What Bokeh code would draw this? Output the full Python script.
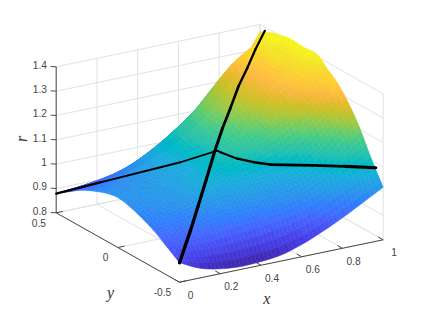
import numpy as np
from bokeh.plotting import figure
from bokeh.models import Range1d
from bokeh.core.properties import value
from bokeh.embed import file_html
from bokeh.resources import INLINE

# ---- surface heights r, rows run from y=-0.5 to y=0.5, columns from x=0 to x=1
y_rows = [-0.5, -0.4, -0.3, -0.2, -0.1, 0.0, 0.1, 0.2, 0.3, 0.4, 0.5]
x_cols = [0.0, 0.1, 0.2, 0.3, 0.4, 0.5, 0.6, 0.7, 0.8, 0.9, 1.0]
x_edge = [1.0, 1.0, 1.0, 1.0, 1.01, 1.03, 1.04, 1.035, 1.03, 1.01, 1.0]
r_table = [
    [0.880, 0.840, 0.820, 0.812, 0.815, 0.825, 0.850, 0.885, 0.925, 0.970, 1.016],
    [0.915, 0.922, 0.930, 0.938, 0.945, 0.955, 0.968, 0.990, 1.030, 1.075, 1.110],
    [0.950, 0.960, 0.980, 1.000, 1.008, 1.012, 1.022, 1.045, 1.085, 1.145, 1.215],
    [0.975, 0.990, 1.010, 1.040, 1.055, 1.060, 1.070, 1.090, 1.140, 1.215, 1.295],
    [0.995, 1.005, 1.020, 1.050, 1.085, 1.110, 1.135, 1.175, 1.225, 1.285, 1.339],
    [1.005, 1.010, 1.020, 1.040, 1.075, 1.125, 1.170, 1.225, 1.280, 1.325, 1.352],
    [0.995, 1.000, 1.015, 1.040, 1.075, 1.135, 1.195, 1.250, 1.300, 1.345, 1.384],
    [0.975, 0.985, 1.005, 1.040, 1.090, 1.145, 1.205, 1.255, 1.300, 1.350, 1.385],
    [0.950, 0.960, 0.980, 1.025, 1.075, 1.135, 1.200, 1.255, 1.300, 1.350, 1.392],
    [0.915, 0.930, 0.945, 0.970, 1.010, 1.060, 1.125, 1.215, 1.300, 1.355, 1.390],
    [0.880, 0.885, 0.890, 0.900, 0.920, 0.950, 0.990, 1.050, 1.130, 1.240, 1.370],
]

# ---- the two curves lying on the surface
line_a_x = [0.0, 0.137, 0.23, 0.336, 0.435, 0.535, 0.634, 0.734, 0.846, 0.945, 1.0]
line_a_y = [-0.5, -0.363, -0.27, -0.164, -0.065, 0.035, 0.134, 0.234, 0.346, 0.445, 0.46]
line_a_r = [0.88, 0.95, 1.006, 1.071, 1.135, 1.187, 1.225, 1.268, 1.294, 1.323, 1.385]
line_a_w = [3.4, 3.3, 3.2, 3.1, 3.0, 2.8, 2.6, 2.4, 2.3, 2.2]

line_b_x = [0.0, 0.135, 0.38, 0.493, 0.502, 0.554, 0.604, 0.655, 0.784, 0.885, 1.0]
line_b_y = [0.5, 0.365, 0.12, 0.007, -0.002, -0.054, -0.104, -0.155, -0.284, -0.385, -0.44]
line_b_r = [0.879, 0.94, 1.05, 1.11, 1.105, 1.084, 1.075, 1.071, 1.082, 1.089, 1.079]
line_b_w = [2.2, 1.9, 1.8, 1.9, 2.1, 2.3, 2.5, 2.7, 2.9, 3.1]

# ---- axes
x_ticks = [0, 0.2, 0.4, 0.6, 0.8, 1]
x_labels = ["0", "0.2", "0.4", "0.6", "0.8", "1"]
y_ticks = [-0.5, 0, 0.5]
y_labels = ["-0.5", "0", "0.5"]
z_ticks = [0.8, 0.9, 1.0, 1.1, 1.2, 1.3, 1.4]
z_labels = ["0.8", "0.9", "1", "1.1", "1.2", "1.3", "1.4"]

parula = [
    (0.2422,0.1504,0.6603),(0.2504,0.1650,0.7076),(0.2578,0.1818,0.7511),(0.2647,0.1978,0.7952),
    (0.2706,0.2147,0.8364),(0.2751,0.2342,0.8710),(0.2783,0.2559,0.8991),(0.2803,0.2782,0.9221),
    (0.2813,0.3006,0.9414),(0.2810,0.3228,0.9579),(0.2795,0.3447,0.9717),(0.2760,0.3667,0.9829),
    (0.2699,0.3892,0.9906),(0.2602,0.4123,0.9952),(0.2440,0.4358,0.9988),(0.2206,0.4603,0.9973),
    (0.1963,0.4847,0.9892),(0.1834,0.5074,0.9798),(0.1786,0.5289,0.9682),(0.1764,0.5499,0.9520),
    (0.1687,0.5703,0.9359),(0.1540,0.5902,0.9218),(0.1460,0.6091,0.9079),(0.1380,0.6276,0.8973),
    (0.1248,0.6459,0.8883),(0.1113,0.6635,0.8763),(0.0952,0.6798,0.8598),(0.0689,0.6948,0.8394),
    (0.0297,0.7082,0.8163),(0.0036,0.7203,0.7917),(0.0067,0.7312,0.7660),(0.0433,0.7411,0.7394),
    (0.0964,0.7500,0.7120),(0.1408,0.7584,0.6842),(0.1717,0.7670,0.6554),(0.1938,0.7758,0.6251),
    (0.2161,0.7843,0.5923),(0.2470,0.7918,0.5567),(0.2906,0.7973,0.5188),(0.3406,0.8008,0.4789),
    (0.3909,0.8029,0.4354),(0.4456,0.8024,0.3909),(0.5044,0.7993,0.3480),(0.5616,0.7942,0.3045),
    (0.6174,0.7876,0.2612),(0.6720,0.7793,0.2227),(0.7242,0.7698,0.1910),(0.7738,0.7598,0.1646),
    (0.8203,0.7498,0.1535),(0.8634,0.7406,0.1596),(0.9035,0.7330,0.1774),(0.9393,0.7288,0.2099),
    (0.9728,0.7298,0.2394),(0.9956,0.7434,0.2371),(0.9970,0.7659,0.2199),(0.9952,0.7893,0.2028),
    (0.9892,0.8136,0.1885),(0.9786,0.8386,0.1766),(0.9676,0.8639,0.1643),(0.9610,0.8890,0.1537),
    (0.9597,0.9135,0.1423),(0.9628,0.9373,0.1265),(0.9691,0.9606,0.1064),(0.9769,0.9839,0.0805),
]
C_MIN, C_MAX = 0.812, 1.40


def proj(x, y, z):
    x, y, z = np.asarray(x, float), np.asarray(y, float), np.asarray(z, float)
    s = y + 0.5
    return (179 + 203.7 * x - 123.3 * s,
            281.7 - 42.4 * x - 69.4 * s - 243.3 * (z - 0.8))


def colour(r):
    i = int(np.clip((r - C_MIN) / (C_MAX - C_MIN) * 64, 0, 63))
    c = parula[i]
    return "#%02x%02x%02x" % (int(c[0] * 255), int(c[1] * 255), int(c[2] * 255))


def refine(table, sub):
    """Catmull-Rom shading between table values, applied along both table axes."""
    def along(a):
        n = a.shape[0]
        idx = np.arange((n - 1) * sub + 1) / sub
        i = np.minimum(idx.astype(int), n - 2)
        t = (idx - i)[:, None]
        pad = np.vstack([2 * a[0] - a[1], a, 2 * a[-1] - a[-2]])
        p0, p1, p2, p3 = pad[i], pad[i + 1], pad[i + 2], pad[i + 3]
        return 0.5 * (2 * p1 + (p2 - p0) * t + (2 * p0 - 5 * p1 + 4 * p2 - p3) * t ** 2
                      + (3 * p1 - p0 - 3 * p2 + p3) * t ** 3)
    return along(along(table).T).T


p = figure(width=415, height=309, output_backend="svg", toolbar_location=None,
           x_range=Range1d(0, 415), y_range=Range1d(309, 0),
           x_axis_type=None, y_axis_type=None, min_border=0,
           outline_line_color=None, background_fill_color="white")
p.xgrid.visible = False
p.ygrid.visible = False

GRID = "#e2e2e2"
AXIS = "#4a4a4a"
X0, X1, Y0, Y1, Z0, Z1 = 0, 1, -0.5, 0.5, 0.8, 1.4


def seg(x0, y0, z0, x1, y1, z1, color, width=1.0):
    a, b = proj(x0, y0, z0), proj(x1, y1, z1)
    p.line([float(a[0]), float(b[0])], [float(a[1]), float(b[1])], line_color=color, line_width=width)


# grid on floor and the two back walls
for t in x_ticks:
    seg(t, Y0, Z0, t, Y1, Z0, GRID)
    seg(t, Y1, Z0, t, Y1, Z1, GRID)
for t in y_ticks:
    seg(X0, t, Z0, X1, t, Z0, GRID)
    seg(X1, t, Z0, X1, t, Z1, GRID)
for t in z_ticks:
    seg(X0, Y1, t, X1, Y1, t, GRID)
    seg(X1, Y1, t, X1, Y0, t, GRID)

# axes and ticks
seg(X0, Y0, Z0, X1, Y0, Z0, AXIS)
seg(X0, Y0, Z0, X0, Y1, Z0, AXIS)
seg(X0, Y1, Z0, X0, Y1, Z1, AXIS)
for t in x_ticks:
    seg(t, Y0, Z0, t, Y0 + 0.04, Z0, AXIS)
for t in y_ticks:
    seg(X0, t, Z0, X0 + 0.033, t, Z0, AXIS)
for t in z_ticks:
    seg(X0, Y1, t, X0 - 0.027, Y1, t + 0.006, AXIS)

# surface, shaded finely and painted from back to front
SUB = 5
fine_r = refine(np.array(r_table), SUB)
fine_x = np.linspace(x_cols[0], x_cols[-1], fine_r.shape[1])
fine_y = np.linspace(y_rows[0], y_rows[-1], fine_r.shape[0])
edge = refine(np.array(x_edge)[:, None].repeat(2, 1), SUB)[:, 0]
grid_x = fine_x[None, :] + (edge[:, None] - 1) * fine_x[None, :] ** 4
grid_y = fine_y[:, None].repeat(len(fine_x), 1)
PX, PY = proj(grid_x, grid_y, fine_r)
cells = []
for i in range(fine_r.shape[0] - 1):
    for j in range(fine_r.shape[1] - 1):
        ii = [i, i, i + 1, i + 1]
        jj = [j, j + 1, j + 1, j]
        depth = 42.4 * fine_x[j] + 69.4 * (fine_y[i] + 0.5)
        cells.append((depth, PX[ii, jj].tolist(), PY[ii, jj].tolist(), colour(float(fine_r[ii, jj].mean()))))
cells.sort(key=lambda c: -c[0])
cols = [c[3] for c in cells]
p.patches([c[1] for c in cells], [c[2] for c in cells],
          fill_color=cols, line_color=cols, line_width=0.5)

# curves on the surface
for xs, ys, rs, ws in [(line_b_x, line_b_y, line_b_r, line_b_w),
                       (line_a_x, line_a_y, line_a_r, line_a_w)]:
    lx, ly = proj(xs, ys, rs)
    p.multi_line([lx[k:k + 2].tolist() for k in range(len(ws))],
                 [ly[k:k + 2].tolist() for k in range(len(ws))],
                 line_color="black", line_width=ws, line_cap="round", line_join="round")

# tick labels
FONT = value("Liberation Sans")
SIZE = value("10.2px")
TXT = "#454545"
ax, ay = proj(x_ticks, [Y0] * len(x_ticks), [Z0] * len(x_ticks))
p.text(ax.tolist(), ay.tolist(), text=x_labels, x_offset=11, y_offset=12.3, text_font=FONT,
       text_font_size=SIZE, text_color=TXT, text_align="center", text_baseline="middle")
ax, ay = proj([X0] * 3, y_ticks, [Z0] * 3)
p.text(ax.tolist(), ay.tolist(), text=y_labels, x_offset=[-17, -12.3, -17.4], y_offset=[9.3, 9.7, 10],
       text_font=FONT, text_font_size=SIZE, text_color=TXT, text_align="center", text_baseline="middle")
ax, ay = proj([X0] * len(z_ticks), [Y1] * len(z_ticks), z_ticks)
p.text(ax.tolist(), ay.tolist(), text=z_labels, x_offset=-9.2, y_offset=-2.3, text_font=FONT,
       text_font_size=SIZE, text_color=TXT, text_align="right", text_baseline="middle")

# axis titles
MATH = value("Liberation Serif")
MS = value("16px")
lab = dict(text_font=MATH, text_font_size=MS, text_font_style="italic", text_color="#333333",
           text_align="center", text_baseline="middle")
p.text([266.3], [298], text=["x"], **lab)
p.text([110], [291.5], text=["y"], **lab)
p.text([20.5], [138.5], text=["r"], angle=[np.pi / 2], **lab)

open("out.html", "w").write(file_html(p, INLINE))
